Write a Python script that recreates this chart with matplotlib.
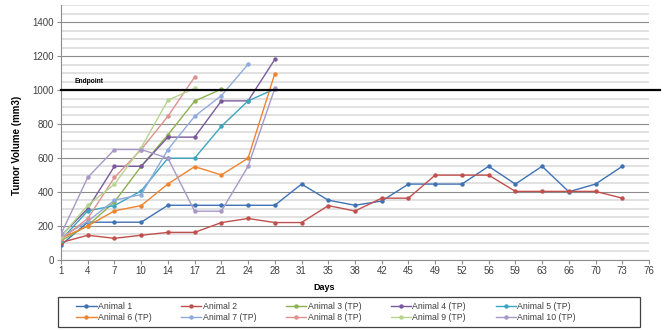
import matplotlib
matplotlib.use("Agg")
import matplotlib.pyplot as plt
import matplotlib.patches as mpatches
from matplotlib.ticker import MultipleLocator

plt.rcParams["font.family"] = ["Liberation Sans", "DejaVu Sans"]

# ── Data ───────────────────────────────────────────────────────────────────────
days = [1, 4, 7, 10, 14, 17, 21, 24, 28, 31, 35, 38, 42, 45, 49, 52,
        56, 59, 63, 66, 70, 73, 76]

animal_1  = [85, 220, 220, 220, 320, 320, 320, 320, 320, 445, 350, 320,
             345, 445, 445, 445, 550, 445, 550, 400, 445, 550]
animal_2  = [100, 143, 125, 143, 160, 160, 218, 242, 218, 218, 318, 286,
             362, 362, 498, 498, 498, 402, 402, 402, 402, 362]
animal_3  = [110, 200, 340, 550, 735, 935, 1005]
animal_4  = [140, 300, 550, 550, 722, 722, 936, 936, 1181]
animal_5  = [115, 287, 318, 405, 598, 598, 786, 936, 1006]
animal_6  = [125, 198, 287, 318, 446, 548, 499, 598, 1097]
animal_7  = [130, 225, 350, 383, 649, 845, 967, 1152]
animal_8  = [120, 242, 484, 649, 845, 1077]
animal_9  = [135, 320, 444, 660, 940, 1010]
animal_10 = [150, 484, 649, 649, 598, 285, 285, 550, 1010]

names = ["Animal 1", "Animal 2", "Animal 3 (TP)", "Animal 4 (TP)",
         "Animal 5 (TP)", "Animal 6 (TP)", "Animal 7 (TP)", "Animal 8 (TP)",
         "Animal 9 (TP)", "Animal 10 (TP)"]
series = [animal_1, animal_2, animal_3, animal_4, animal_5,
          animal_6, animal_7, animal_8, animal_9, animal_10]
colors = ["#3F72B5", "#C0504D", "#8DB050", "#7A5A9C", "#3DA5BF",
          "#F0842E", "#8FAADC", "#DD9290", "#B8D58E", "#A898C6"]
endpoint = 1000

# ── Figure ─────────────────────────────────────────────────────────────────────
W, H, DPI = 670, 330, 100
fig = plt.figure(figsize=(W / DPI, H / DPI), dpi=DPI, facecolor="white")
ax = fig.add_axes([61 / W, 1 - 259.5 / H, 588 / W, 254.2 / H])

handles = []
for vals, name, c in zip(series, names, colors):
    h, = ax.plot(range(len(vals)), vals, color=c, lw=1.0, marker="o",
                 markersize=3.2, markeredgewidth=0, label=name, zorder=3)
    handles.append(h)

ax.axhline(endpoint, xmin=0, xmax=(660 - 61) / 588, color="black", lw=1.6,
           clip_on=False, zorder=4)
ax.text(0.5, endpoint + 30, "Endpoint", fontsize=4.8, fontweight="bold",
        ha="left", va="bottom", zorder=5)

ax.set_xlim(0, len(days) - 1)
ax.set_ylim(0, 1500)
ax.set_xticks(range(len(days)))
ax.set_xticklabels([str(d) for d in days])
ax.yaxis.set_major_locator(MultipleLocator(200))
ax.yaxis.set_minor_locator(MultipleLocator(50))
ax.set_yticks([0, 200, 400, 600, 800, 1000, 1200, 1400])

ax.grid(axis="y", which="minor", color="#D9D9D9", lw=1.1, zorder=0)
ax.grid(axis="y", which="major", color="#8C8C8C", lw=0.8, zorder=1)
ax.set_axisbelow(True)

for s in ("top", "right"):
    ax.spines[s].set_visible(False)
for s in ("left", "bottom"):
    ax.spines[s].set_color("#8C8C8C")
    ax.spines[s].set_linewidth(0.8)
ax.tick_params(axis="both", which="major", labelsize=7, colors="#8C8C8C",
               labelcolor="#404040", length=3, width=0.8, pad=2)
ax.tick_params(axis="y", which="minor", length=0)

fig.text(324 / W, 1 - 287 / H, "Days", fontsize=6.5, fontweight="bold",
         ha="center", va="center")
fig.text(17 / W, 1 - 145 / H, "Tumor Volume (mm3)", fontsize=7,
         fontweight="bold", rotation=90, ha="center", va="center")

# legend box, wider than its entries
fig.add_artist(mpatches.Rectangle((58 / W, 3 / H), 582 / W, 30.3 / H,
                                  transform=fig.transFigure, fill=False,
                                  edgecolor="#404040", lw=0.9))

# legend fills row-wise: 1-5 on top, 6-10 below
order = [0, 5, 1, 6, 2, 7, 3, 8, 4, 9]
leg = fig.legend([handles[i] for i in order], [names[i] for i in order],
                 ncol=5, loc="center left",
                 bbox_to_anchor=(72 / W, 1 - 312 / H),
                 bbox_transform=fig.transFigure, fontsize=6.3,
                 handlelength=2.3, handletextpad=0.15, borderpad=0.0,
                 labelspacing=0.2, columnspacing=3.4, frameon=False)
for t in leg.get_texts():
    t.set_color("#404040")

fig.savefig("out.png", dpi=DPI, facecolor="white")
